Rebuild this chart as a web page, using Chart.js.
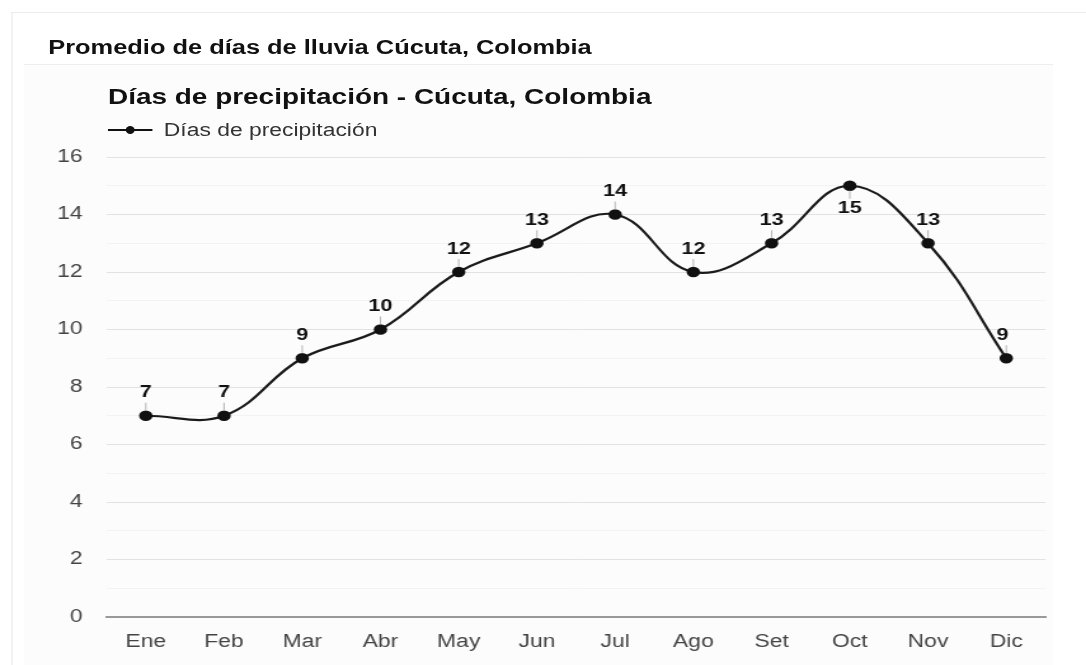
<!DOCTYPE html>
<html>
<head>
<meta charset="utf-8">
<script src="https://cdn.jsdelivr.net/npm/chart.js@4"></script>
<style>
  body { margin: 0; background: #fff; font-family: "Liberation Sans", Arial, sans-serif; overflow: hidden; }
  /* la captura original esta estirada en horizontal, se reproduce con scaleX */
  #lienzo { position: absolute; left: 0; top: 0; width: 855px; height: 665px;
            transform: scaleX(1.2702); transform-origin: 0 0; }
  #card { position: absolute; left: 9px; top: 12px; width: 850px; height: 660px;
          border-left: 1px solid #ececec; border-top: 1px solid #ececec; }
  #cabecera { position: absolute; left: 38px; top: 37px; font-weight: bold; font-size: 20px; line-height: 20px; color: #111; }
  #separador { position: absolute; left: 19px; top: 64px; width: 810px; height: 1px; background: #eee; }
  #fondo { position: absolute; left: 19px; top: 65px; width: 810px; height: 600px; background: #fcfcfc; }
  #titulo { position: absolute; left: 85px; top: 86px; font-weight: bold; font-size: 22px; line-height: 22px; color: #111; }
  #leyenda { position: absolute; left: 85px; top: 121px; font-size: 18px; line-height: 18px; color: #333; display: flex; align-items: center; }
  #leyenda .linea { position: relative; width: 35px; height: 2px; background: #111; margin-right: 9px; }
  #leyenda .punto { position: absolute; left: 14px; top: -3px; width: 7px; height: 8px; border-radius: 50%; background: #111; }
  canvas { position: absolute; left: 0; top: 0; }
</style>
</head>
<body>
<div id="lienzo">
  <div id="card"></div>
  <div id="cabecera">Promedio de días de lluvia Cúcuta, Colombia</div>
  <div id="separador"></div>
  <div id="fondo"></div>
  <div id="titulo">Días de precipitación - Cúcuta, Colombia</div>
  <div id="leyenda"><span class="linea"><span class="punto"></span></span>Días de precipitación</div>
  <canvas id="grafico" width="855" height="665"></canvas>
</div>
<script>
// datos
const meses = ['Ene', 'Feb', 'Mar', 'Abr', 'May', 'Jun', 'Jul', 'Ago', 'Set', 'Oct', 'Nov', 'Dic'];
const diasLluvia = [7, 7, 9, 10, 12, 13, 14, 12, 13, 15, 13, 9];
const nombreSerie = 'Días de precipitación';
const ejeYMin = 0;
const ejeYMax = 16;

const fuente = '"Liberation Sans", Arial, sans-serif';

// etiquetas de valor encima de cada punto, con su pequeña guia
const etiquetasValor = {
    id: 'etiquetasValor',
    afterDatasetsDraw(chart) {
        const ctx = chart.ctx;
        const meta = chart.getDatasetMeta(0);
        ctx.save();
        ctx.font = 'bold 17px ' + fuente;
        ctx.textAlign = 'center';
        ctx.textBaseline = 'middle';
        meta.data.forEach((p, i) => {
            const abajo = meses[i] === 'Oct'; // el pico de octubre lleva la etiqueta debajo
            const dir = abajo ? 1 : -1;
            ctx.strokeStyle = '#b5b5b5';
            ctx.lineWidth = 1;
            ctx.beginPath();
            ctx.moveTo(p.x, p.y + dir * 5);
            ctx.lineTo(p.x, p.y + dir * 13);
            ctx.stroke();
            ctx.fillStyle = '#111';
            const dx = i === meses.length - 1 ? -3 : 0;
            ctx.fillText(String(diasLluvia[i]), p.x + dx, p.y + dir * 23);
        });
        ctx.restore();
    }
};

new Chart(document.getElementById('grafico').getContext('2d'), {
    type: 'line',
    data: {
        labels: meses,
        datasets: [{
            label: nombreSerie,
            data: diasLluvia,
            borderColor: '#1a1a1a',
            borderWidth: 2.2,
            tension: 0.4,
            pointRadius: 4.2,
            pointBackgroundColor: '#111',
            pointBorderColor: '#111',
            fill: false
        }]
    },
    options: {
        responsive: false,
        animation: false,
        layout: { padding: { left: 34, right: 32, top: 157, bottom: 0 } },
        plugins: {
            legend: { display: false },
            title: { display: false },
            tooltip: { enabled: false }
        },
        scales: {
            x: {
                offset: true,
                grid: { display: false, drawTicks: false },
                border: { display: true, color: '#999', width: 2 },
                ticks: { color: '#444', padding: 14, font: { size: 18, family: fuente } },
                afterFit: (s) => { s.height = 48; }
            },
            y: {
                min: ejeYMin,
                max: ejeYMax,
                border: { display: false },
                grid: {
                    drawTicks: false,
                    color: (c) => (c.tick && c.tick.value % 2 === 0) ? '#e2e2e2' : '#f3f3f3'
                },
                ticks: {
                    stepSize: 1,
                    autoSkip: false,
                    padding: 19,
                    color: '#444',
                    font: { size: 18, family: fuente },
                    callback: (v) => v % 2 === 0 ? v : ''
                },
                afterFit: (s) => { s.width = 50; }
            }
        }
    },
    plugins: [etiquetasValor]
});
</script>
</body>
</html>
